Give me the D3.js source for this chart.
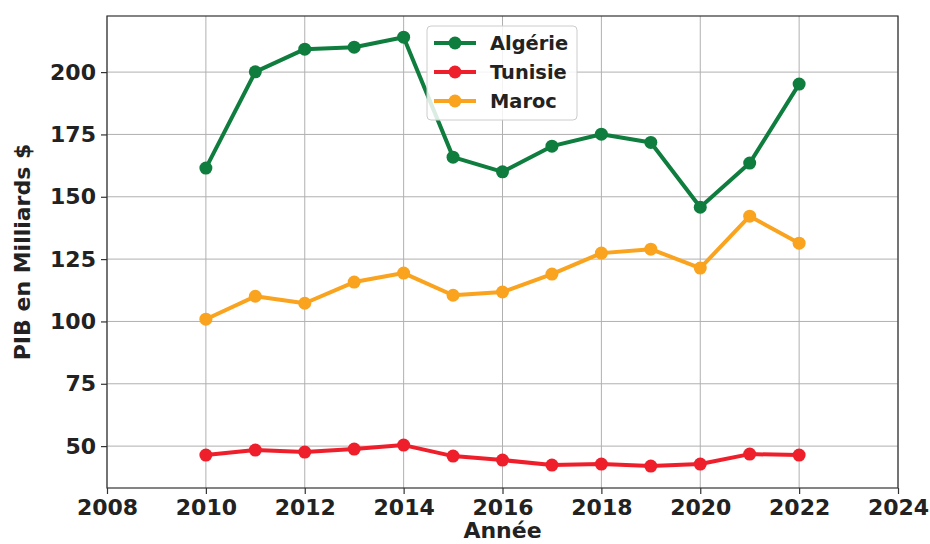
<!DOCTYPE html>
<html>
<head>
<meta charset="utf-8">
<script src="https://cdn.jsdelivr.net/npm/d3@7"></script>
<style>
  body { margin: 0; background: #fff; }
  text { font-family: "DejaVu Sans", sans-serif; font-weight: bold; fill: #222; }
</style>
</head>
<body>
<svg width="930" height="544"></svg>
<script>
// data
var years = [2010, 2011, 2012, 2013, 2014, 2015, 2016, 2017, 2018, 2019, 2020, 2021, 2022];
var algerie = [161.5, 200.1, 209.2, 210, 214, 165.9, 160, 170.3, 175.1, 171.8, 145.8, 163.5, 195.2];
var tunisie = [46.4, 48.4, 47.6, 48.8, 50.4, 46, 44.4, 42.4, 42.8, 42, 42.8, 46.8, 46.4];
var maroc = [100.9, 110.1, 107.3, 115.8, 119.4, 110.5, 111.8, 119, 127.4, 129, 121.4, 142.2, 131.4];
var seriesNames = ["Algérie", "Tunisie", "Maroc"];
var xTicks = [2008, 2010, 2012, 2014, 2016, 2018, 2020, 2022, 2024];
var yTicks = [50, 75, 100, 125, 150, 175, 200];

var colors = ["#0e7d3e", "#ee1f2b", "#f9a31e"];

var svg = d3.select("svg"),
    margin = {top: 16, right: 32, bottom: 56, left: 107},
    width = 930 - margin.left - margin.right,
    height = 544 - margin.top - margin.bottom,
    g = svg.append("g").attr("transform", "translate(" + margin.left + "," + margin.top + ")");

var x = d3.scaleLinear().domain([2008, 2024]).range([0, width]),
    y = d3.scaleLinear().domain([33.2, 222.5]).range([height, 0]);

// grid
g.append("g").selectAll("line.gx")
    .data(xTicks).enter().append("line")
    .attr("x1", function(d) { return x(d); }).attr("x2", function(d) { return x(d); })
    .attr("y1", 0).attr("y2", height)
    .attr("stroke", "#b0b0b0").attr("stroke-width", 1);
g.append("g").selectAll("line.gy")
    .data(yTicks).enter().append("line")
    .attr("x1", 0).attr("x2", width)
    .attr("y1", function(d) { return y(d); }).attr("y2", function(d) { return y(d); })
    .attr("stroke", "#b0b0b0").attr("stroke-width", 1);

// axes
var xAxis = g.append("g")
    .attr("transform", "translate(0," + height + ")")
    .call(d3.axisBottom(x).tickValues(xTicks).tickFormat(d3.format("d")).tickSize(6).tickPadding(5));
var yAxis = g.append("g")
    .call(d3.axisLeft(y).tickValues(yTicks).tickSize(6).tickPadding(5));
[xAxis, yAxis].forEach(function(a) {
    a.select(".domain").remove();
    a.selectAll("line").attr("stroke", "#333").attr("stroke-width", 1.2);
    a.selectAll("text").style("font-size", "22px").attr("fill", "#222")
        .style("font-family", "DejaVu Sans").style("font-weight", "bold");
});

// frame
g.append("rect").attr("width", width).attr("height", height)
    .attr("fill", "none").attr("stroke", "#333").attr("stroke-width", 1.2);

// axis labels
svg.append("text")
    .attr("x", margin.left + width / 2).attr("y", 538)
    .attr("text-anchor", "middle").style("font-size", "22px")
    .text("Année");
svg.append("text")
    .attr("transform", "translate(30," + (margin.top + height / 2) + ") rotate(-90)")
    .attr("text-anchor", "middle").style("font-size", "22px")
    .text("PIB en Milliards $");

// lines
var dataset = [algerie, tunisie, maroc].map(function(vals, i) {
    return {
        id: seriesNames[i],
        color: colors[i],
        values: years.map(function(yr, j) { return {year: yr, value: vals[j]}; })
    };
});

var line = d3.line()
    .x(function(d) { return x(d.year); })
    .y(function(d) { return y(d.value); });

var s = g.selectAll(".series").data(dataset).enter().append("g").attr("class", "series");
s.append("path")
    .attr("d", function(d) { return line(d.values); })
    .attr("fill", "none")
    .attr("stroke", function(d) { return d.color; })
    .attr("stroke-width", 4)
    .attr("stroke-linejoin", "round");
s.selectAll("circle").data(function(d) { return d.values.map(function(v) { return {v: v, c: d.color}; }); })
    .enter().append("circle")
    .attr("cx", function(d) { return x(d.v.year); })
    .attr("cy", function(d) { return y(d.v.value); })
    .attr("r", 6.5)
    .attr("fill", function(d) { return d.c; });

// legend
var lg = svg.append("g").attr("transform", "translate(427,26)");
lg.append("rect").attr("width", 150).attr("height", 94).attr("rx", 4)
    .attr("fill", "#fff").attr("fill-opacity", 0.85)
    .attr("stroke", "#cccccc").attr("stroke-width", 1);
dataset.forEach(function(d, i) {
    var row = lg.append("g").attr("transform", "translate(0," + (17 + i * 29) + ")");
    row.append("line").attr("x1", 7).attr("x2", 49)
        .attr("stroke", d.color).attr("stroke-width", 4);
    row.append("circle").attr("cx", 28).attr("r", 6.5).attr("fill", d.color);
    row.append("text").attr("x", 63).attr("dy", "0.35em")
        .style("font-size", "19.4px").text(d.id);
});
</script>
</body>
</html>
